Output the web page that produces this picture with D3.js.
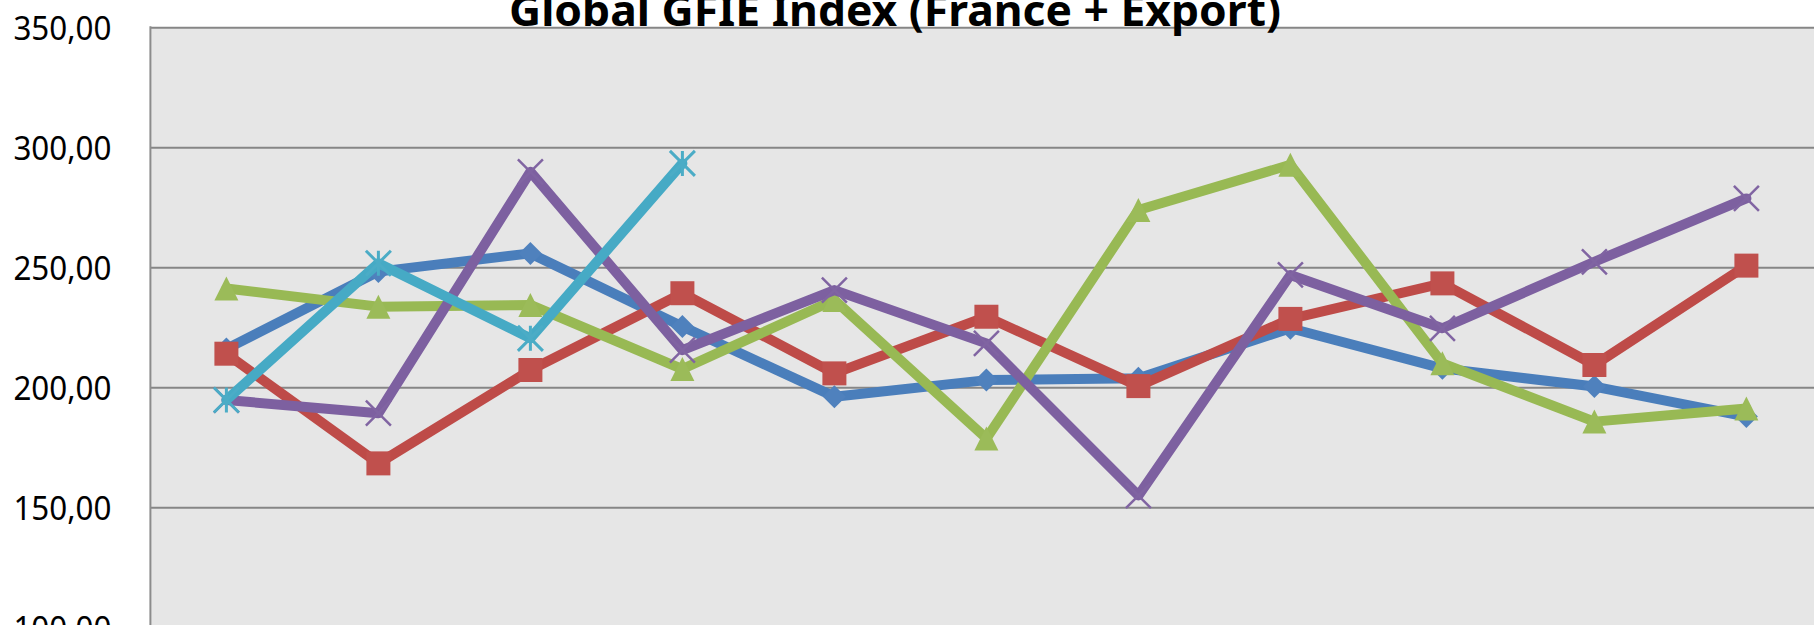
<!DOCTYPE html>
<html>
<head>
<meta charset="utf-8">
<script src="https://cdn.jsdelivr.net/npm/d3@7"></script>
<style>
  html, body { margin: 0; padding: 0; background: #ffffff; }
  svg { display: block; }
</style>
</head>
<body>
<div id="chart"></div>
<script>

// data
var categories = ["janv.", "févr.", "mars", "avr.", "mai", "juin", "juil.", "août", "sept.", "oct.", "nov."];
var seriesNames = ["Série 1", "Série 2", "Série 3", "Série 4", "Série 5"];
var blueValues   = [216.0, 248.2, 255.8, 225.3, 196.1, 203.0, 203.8, 224.6, 207.9, 200.3, 187.8];
var redValues    = [214.0, 168.3, 207.2, 239.2, 205.8, 229.4, 200.5, 228.5, 243.3, 209.3, 250.7];
var greenValues  = [241.2, 233.6, 234.3, 207.6, 236.4, 178.7, 273.9, 292.7, 210.0, 185.7, 191.2];
var purpleValues = [194.7, 189.2, 289.8, 215.5, 240.5, 218.3, 154.9, 246.8, 224.6, 252.3, 278.7];
var cyanValues   = [194.7, 251.7, 220.4, 293.3];
var yTicks = [100, 150, 200, 250, 300, 350];
var chartTitle = "Global GFIE Index (France + Export)";

var width = 1814, height = 625;
var margin = {top: 27.3, left: 150.4};
var band = 152;

var svg = d3.select("#chart").append("svg")
    .attr("width", width)
    .attr("height", height);

var x = d3.scaleBand()
    .domain(categories)
    .range([margin.left, margin.left + band * categories.length])
    .padding(0);

var y = d3.scaleLinear()
    .domain([100, 350])
    .range([margin.top + 600, margin.top]);

var fr = d3.formatLocale({decimal: ",", thousands: "\u00a0", grouping: [3], currency: ["", " €"]});
var fmt = fr.format(".2f");

// plot area
svg.append("rect")
    .attr("x", x.range()[0])
    .attr("y", y(350))
    .attr("width", x.range()[1] - x.range()[0])
    .attr("height", y(100) - y(350))
    .attr("fill", "#e6e6e6");

// y axis with gridlines
var yAxis = d3.axisLeft(y)
    .tickValues(yTicks)
    .tickFormat(fmt)
    .tickSizeInner(-(x.range()[1] - x.range()[0]))
    .tickSizeOuter(0)
    .tickPadding(39);

var gy = svg.append("g")
    .attr("transform", "translate(" + x.range()[0] + ",0)")
    .call(yAxis);

gy.select(".domain").remove();
gy.selectAll(".tick line")
    .attr("stroke", "#868686")
    .attr("stroke-width", 2);
gy.selectAll(".tick text")
    .attr("font-family", "'Noto Sans', 'Open Sans', sans-serif")
    .attr("font-size", 33)
    .attr("textLength", 98)
    .attr("lengthAdjust", "spacingAndGlyphs")
    .attr("fill", "#000")
    .attr("dy", "0.36em");

svg.append("line")
    .attr("x1", x.range()[0]).attr("x2", x.range()[0])
    .attr("y1", y(350) - 1).attr("y2", y(100))
    .attr("stroke", "#8c8c8c")
    .attr("stroke-width", 2);

// marker shapes, size = half extent
var diamond = {draw: function(c, r) { c.moveTo(0, -r); c.lineTo(r, 0); c.lineTo(0, r); c.lineTo(-r, 0); c.closePath(); }};
var square = {draw: function(c, r) { c.rect(-r, -r, 2 * r, 2 * r); }};
var triangle = {draw: function(c, r) { c.moveTo(0, -r); c.lineTo(r, r); c.lineTo(-r, r); c.closePath(); }};
var cross = {draw: function(c, r) { c.moveTo(-r, -r); c.lineTo(r, r); c.moveTo(r, -r); c.lineTo(-r, r); }};
var star = {draw: function(c, r) { c.moveTo(-r, -r); c.lineTo(r, r); c.moveTo(r, -r); c.lineTo(-r, r); c.moveTo(0, -r); c.lineTo(0, r); }};

var series = [
  {name: seriesNames[0], values: blueValues,   line: "#4a7ebb", mark: "#4f81bd", shape: diamond,  size: 11.5, filled: true},
  {name: seriesNames[1], values: redValues,    line: "#be4b48", mark: "#c0504d", shape: square,   size: 12,   filled: true},
  {name: seriesNames[2], values: greenValues,  line: "#98b954", mark: "#9bbb59", shape: triangle, size: 12,   filled: true},
  {name: seriesNames[3], values: purpleValues, line: "#7d60a0", mark: "#8064a2", shape: cross,    size: 12.5, filled: false, sw: 2.5},
  {name: seriesNames[4], values: cyanValues,   line: "#46aac5", mark: "#4bacc6", shape: star,     size: 12.5, filled: false, sw: 3}
];

var line = d3.line()
    .x(function(d, i) { return x(categories[i]) + x.bandwidth() / 2; })
    .y(function(d) { return y(d); });

series.forEach(function(s) {
  var g = svg.append("g").attr("class", "series");

  g.append("path")
      .datum(s.values)
      .attr("d", line)
      .attr("fill", "none")
      .attr("stroke", s.line)
      .attr("stroke-width", 10)
      .attr("stroke-linejoin", "round")
      .attr("stroke-linecap", "round");

  g.selectAll("path.marker")
      .data(s.values)
    .enter().append("path")
      .attr("class", "marker")
      .attr("transform", function(d, i) {
        return "translate(" + (x(categories[i]) + x.bandwidth() / 2) + "," + y(d) + ")";
      })
      .attr("d", d3.symbol().type(s.shape).size(s.size))
      .attr("fill", s.filled ? s.mark : "none")
      .attr("stroke", s.filled ? "none" : s.mark)
      .attr("stroke-width", s.sw || 0);
});

// title
svg.append("text")
    .attr("x", 895)
    .attr("y", 26)
    .attr("text-anchor", "middle")
    .attr("font-family", "'Noto Sans', 'Open Sans', sans-serif")
    .attr("font-weight", "bold")
    .attr("font-size", 43)
    .attr("textLength", 772)
    .attr("lengthAdjust", "spacingAndGlyphs")
    .attr("fill", "#000")
    .text(chartTitle);

</script>
</body>
</html>
